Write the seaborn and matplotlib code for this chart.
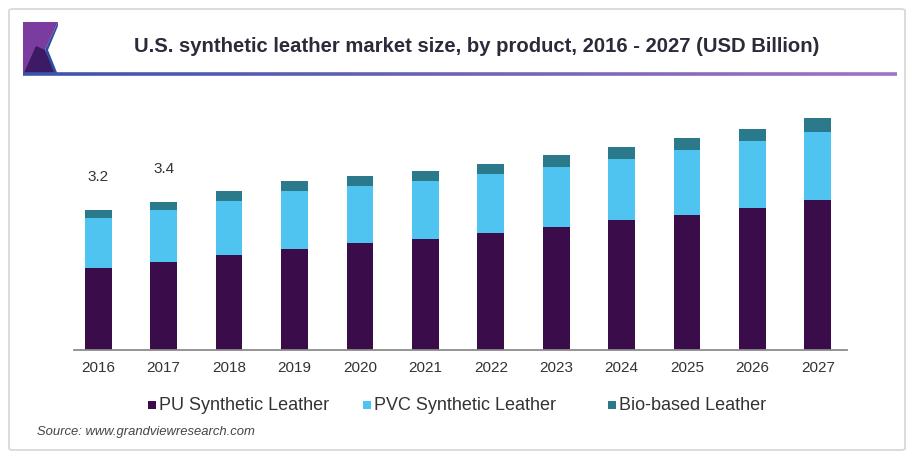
import matplotlib
matplotlib.use("Agg")
import matplotlib.pyplot as plt
import seaborn as sns
import pandas as pd
import numpy as np
from matplotlib.patches import FancyBboxPatch, Polygon, Rectangle

years = ["2016", "2017", "2018", "2019", "2020", "2021",
         "2022", "2023", "2024", "2025", "2026", "2027"]
pu = [1.86, 2.00, 2.17, 2.31, 2.45, 2.53, 2.67, 2.80, 2.97, 3.08, 3.24, 3.44]
pvc = [1.15, 1.20, 1.24, 1.33, 1.30, 1.33, 1.36, 1.38, 1.41, 1.50, 1.54, 1.56]
bio = [0.19, 0.19, 0.22, 0.22, 0.23, 0.24, 0.22, 0.27, 0.27, 0.28, 0.27, 0.32]
labels = {"2016": "3.2", "2017": "3.4"}
series = ["PU Synthetic Leather", "PVC Synthetic Leather", "Bio-based Leather"]
colors = ["#3a0d4a", "#4fc4f0", "#2b7a8c"]

df = pd.DataFrame({"year": years, "pu": pu, "pvc": pvc, "bio": bio})
df["c1"] = df["pu"]
df["c2"] = df["pu"] + df["pvc"]
df["c3"] = df["c2"] + df["bio"]

sns.set_theme(style="white")
plt.rcParams["font.family"] = ["Liberation Sans", "DejaVu Sans"]

W, H = 911, 472
fig = plt.figure(figsize=(W / 100, H / 100), dpi=100)
fig.patch.set_facecolor("white")

# outer frame
frame = FancyBboxPatch((9 / W, 1 - 450 / H), 896 / W, 441 / H,
                       boxstyle="round,pad=0,rounding_size=0.004",
                       transform=fig.transFigure, facecolor="white",
                       edgecolor="#d6d6d6", linewidth=1.2, zorder=-5)
fig.patches.append(frame)

# logo
def fp(pts):
    return [(x / W, 1 - y / H) for x, y in pts]

fig.patches.append(Polygon(fp([(23, 22), (58, 22), (45, 50), (36, 75), (23, 75)]),
                           closed=True, transform=fig.transFigure,
                           facecolor="#7a3c9e", edgecolor="none", zorder=2))
fig.patches.append(Polygon(fp([(23, 75), (36, 46), (45, 50), (58, 75)]),
                           closed=True, transform=fig.transFigure,
                           facecolor="#3c1a66", edgecolor="none", zorder=3))
fig.patches.append(Polygon(fp([(45, 50), (58, 22), (58, 26), (48, 50), (58, 75), (55, 75)]),
                           closed=True, transform=fig.transFigure,
                           facecolor="#2f4f9e", edgecolor="none", zorder=3))

# gradient underline
x0, x1, yl = 23, 897, 74
n = 120
xs = np.linspace(x0, x1, n + 1)
c_start = np.array([0x3a, 0x55, 0xa8]) / 255
c_end = np.array([0xa0, 0x72, 0xc4]) / 255
for i in range(n):
    t = i / (n - 1)
    c = c_start * (1 - t) + c_end * t
    fig.lines.append(plt.Line2D([xs[i] / W, xs[i + 1] / W], [1 - yl / H, 1 - yl / H],
                                transform=fig.transFigure, color=c, linewidth=2.6,
                                solid_capstyle="butt", zorder=4))

fig.text(477 / W, 1 - 47 / H,
         "U.S. synthetic leather market size, by product, 2016 - 2027 (USD Billion)",
         ha="center", va="center", fontsize=14.6, fontweight="bold", color="#2b2b3a")

# axes
ax_left, ax_right = 74 / W, 846.7 / W
ax_bottom = 1 - 349.5 / H
ax_top = 1 - 100 / H
ax = fig.add_axes([ax_left, ax_bottom, ax_right - ax_left, ax_top - ax_bottom])
ax.set_facecolor("none")
ax.set_zorder(5)

for col, color, name in zip(["c3", "c2", "c1"], colors[::-1], series[::-1]):
    sns.barplot(data=df, x="year", y=col, color=color, width=0.41,
                saturation=1, ax=ax, label=name, linewidth=0)

ax.set_xlim(-0.37, 11.44)
ax.set_ylim(0, 249.5 / 43.6)
ax.set_xlabel("")
ax.set_ylabel("")
ax.set_yticks([])
if ax.get_legend() is not None:
    ax.get_legend().remove()
for s in ["top", "right", "left"]:
    ax.spines[s].set_visible(False)
ax.spines["bottom"].set_color("#8c8c8c")
ax.spines["bottom"].set_linewidth(1.3)
ax.tick_params(axis="x", length=0, pad=8, labelsize=11, colors="#333333")

for i, y in enumerate(years):
    if y in labels:
        ax.text(i, df.loc[i, "c3"] + 0.76, labels[y], ha="center", va="center",
                fontsize=11, color="#333333")

# legend
leg_items = [(152, series[0], colors[0]), (367, series[1], colors[1]), (612, series[2], colors[2])]
for x, name, color in leg_items:
    fig.patches.append(Rectangle(((x - 4) / W, 1 - 409 / H), 8 / W, 8 / H,
                                 transform=fig.transFigure, facecolor=color,
                                 edgecolor="none"))
    fig.text((x + 7) / W, 1 - 405 / H, name, ha="left", va="center",
             fontsize=13, color="#333333")

fig.text(37 / W, 1 - 432 / H, "Source: www.grandviewresearch.com", ha="left",
         va="center", fontsize=9.4, style="italic", color="#444444")

fig.savefig("out.png", dpi=100, facecolor="white")
